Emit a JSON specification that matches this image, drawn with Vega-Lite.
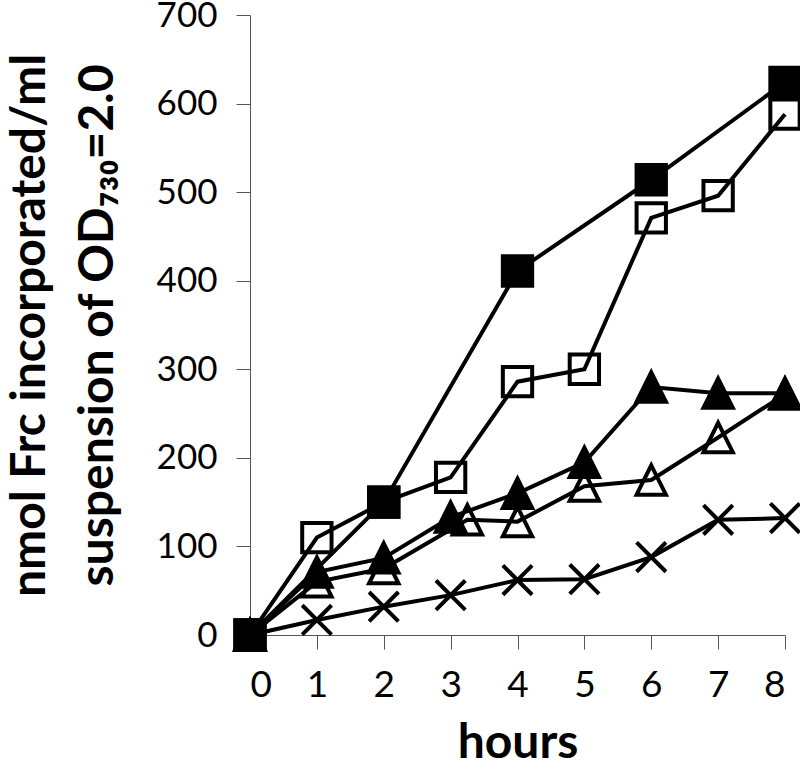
{
  "$schema": "https://vega.github.io/schema/vega-lite/v6.json",
  "width": 535,
  "height": 620,
  "autosize": {"type": "none"},
  "padding": {"left": 250, "top": 15, "right": 15, "bottom": 137},
  "background": "white",
  "config": {"view": {"stroke": null}, "font": "Lato"},
  "data": {
    "values": [
      {"series": "X", "hours": 0, "value": 0},
      {"series": "X", "hours": 1, "value": 17},
      {"series": "X", "hours": 2, "value": 32},
      {"series": "X", "hours": 3, "value": 45},
      {"series": "X", "hours": 4, "value": 62},
      {"series": "X", "hours": 5, "value": 63},
      {"series": "X", "hours": 6, "value": 88},
      {"series": "X", "hours": 7, "value": 130},
      {"series": "X", "hours": 8, "value": 132},
      {"series": "OT", "hours": 0, "value": 0},
      {"series": "OT", "hours": 1, "value": 60},
      {"series": "OT", "hours": 2, "value": 75},
      {"series": "OT", "hours": 3.25, "value": 130},
      {"series": "OT", "hours": 4, "value": 128},
      {"series": "OT", "hours": 5, "value": 168},
      {"series": "OT", "hours": 6, "value": 175},
      {"series": "OT", "hours": 7, "value": 223},
      {"series": "OT", "hours": 8, "value": 272},
      {"series": "FT", "hours": 0, "value": 0},
      {"series": "FT", "hours": 1, "value": 71},
      {"series": "FT", "hours": 2, "value": 87},
      {"series": "FT", "hours": 3, "value": 133},
      {"series": "FT", "hours": 4, "value": 160},
      {"series": "FT", "hours": 5, "value": 195},
      {"series": "FT", "hours": 6, "value": 280},
      {"series": "FT", "hours": 7, "value": 273},
      {"series": "FT", "hours": 8, "value": 273},
      {"series": "OS", "hours": 0, "value": 0},
      {"series": "OS", "hours": 1, "value": 110},
      {"series": "OS", "hours": 2, "value": 150},
      {"series": "OS", "hours": 3, "value": 178},
      {"series": "OS", "hours": 4, "value": 286},
      {"series": "OS", "hours": 5, "value": 300},
      {"series": "OS", "hours": 6, "value": 471},
      {"series": "OS", "hours": 7, "value": 496},
      {"series": "OS", "hours": 8, "value": 588},
      {"series": "FS", "hours": 0, "value": 0},
      {"series": "FS", "hours": 2, "value": 150},
      {"series": "FS", "hours": 4, "value": 411},
      {"series": "FS", "hours": 6, "value": 514},
      {"series": "FS", "hours": 8, "value": 624}
    ]
  },
  "encoding": {
    "x": {
      "field": "hours",
      "type": "quantitative",
      "scale": {"domain": [0, 8], "nice": false, "zero": false},
      "axis": {
        "values": [0, 1, 2, 3, 4, 5, 6, 7, 8],
        "grid": false,
        "tickSize": 14,
        "tickColor": "#555555",
        "domainColor": "#555555",
        "labelFontSize": 37,
        "labelColor": "black",
        "labelPadding": 18,
        "title": "hours",
        "titleFontSize": 48,
        "titleFontWeight": "bold",
        "titleColor": "black",
        "titlePadding": 16
      }
    },
    "y": {
      "field": "value",
      "type": "quantitative",
      "scale": {"domain": [0, 700], "nice": false},
      "axis": {
        "values": [0, 100, 200, 300, 400, 500, 600, 700],
        "grid": false,
        "tickSize": 14,
        "tickColor": "#555555",
        "domainColor": "#555555",
        "labelFontSize": 35,
        "labelColor": "black",
        "labelPadding": 19,
        "title": ["nmol Frc incorporated/ml", "suspension of OD₇₃₀=2.0"],
        "titleFontSize": 48,
        "titleFontWeight": "bold",
        "titleColor": "black",
        "titleLineHeight": 68,
        "titlePadding": 34
      }
    }
  },
  "layer": [
    {
      "mark": {"type": "line", "color": "black", "strokeWidth": 4},
      "encoding": {"detail": {"field": "series"}}
    },
    {
      "mark": {"type": "point", "filled": true, "stroke": "black", "strokeWidth": 4, "opacity": 1, "size": 860},
      "encoding": {
        "shape": {
          "field": "series",
          "scale": {
            "domain": ["X", "OT", "FT", "OS", "FS"],
            "range": ["M-1,-1L1,1M-1,1L1,-1", "M0,-1L1,1L-1,1Z", "M0,-1L1,1L-1,1Z", "square", "square"]
          },
          "legend": null
        },
        "fill": {
          "field": "series",
          "scale": {
            "domain": ["X", "OT", "FT", "OS", "FS"],
            "range": ["transparent", "transparent", "black", "transparent", "black"]
          },
          "legend": null
        }
      }
    }
  ]
}
